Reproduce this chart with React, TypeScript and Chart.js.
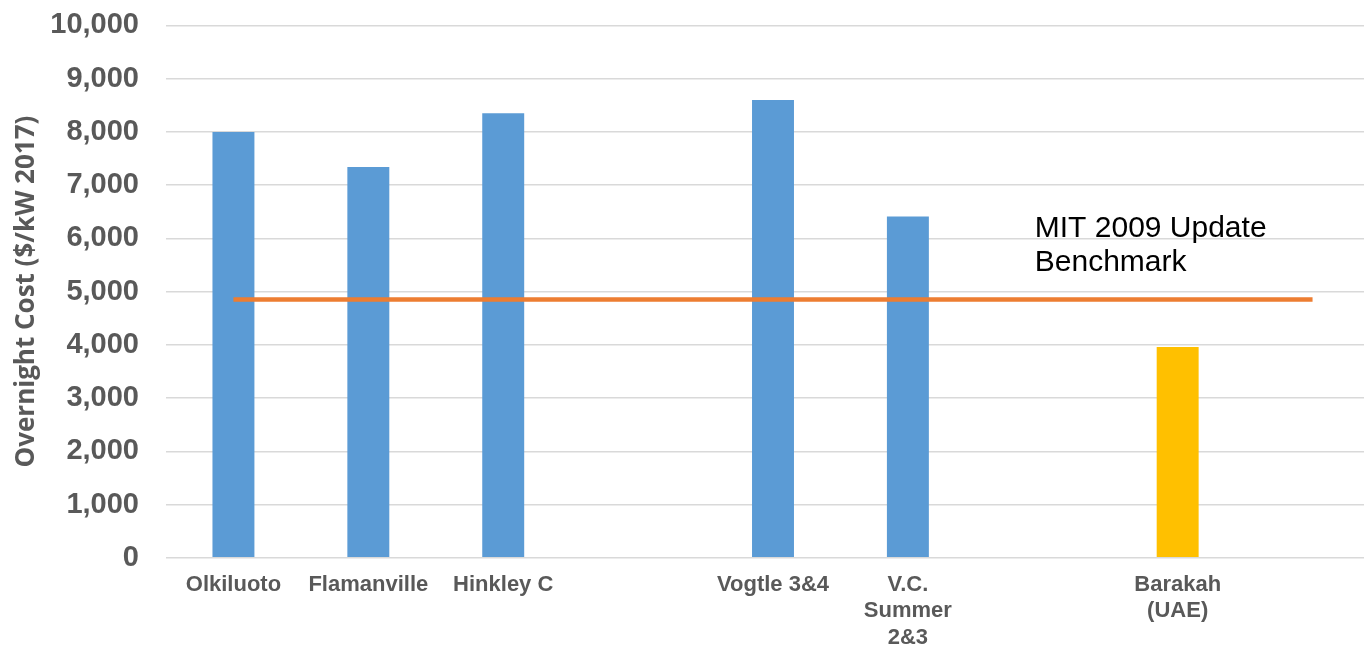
import React, { useEffect, useRef } from 'react';
import { Chart, registerables } from 'chart.js';

Chart.register(...registerables);

// Plant names (empty slots keep the gaps between country groups)
const categories: (string | string[])[] = [
  'Olkiluoto',
  'Flamanville',
  'Hinkley C',
  '',
  'Vogtle 3&4',
  ['V.C.', 'Summer', '2&3'],
  '',
  ['Barakah', '(UAE)'],
  '',
];

// Overnight cost, $/kW (2017 dollars)
const overnightCost: (number | null)[] = [8000, 7340, 8350, null, 8600, 6410, null, 3960, null];

// MIT 2009 Update benchmark level
const benchmarkCost: number[] = [4850, 4850, 4850, 4850, 4850, 4850, 4850, 4850, 4850];

const yTicks: number[] = [0, 1000, 2000, 3000, 4000, 5000, 6000, 7000, 8000, 9000, 10000];

const benchmarkLabel: string[] = ['MIT 2009 Update', 'Benchmark'];

const BLUE = '#5B9BD5';
const GOLD = '#FFC000';
const ORANGE = '#ED7D31';
const AXIS_GREY = '#595959';

const benchmarkNote = {
  id: 'benchmarkNote',
  afterDatasetsDraw(chart: any) {
    const { ctx, scales } = chart;
    const x = scales.x.getPixelForValue(6) - 8;
    const y = scales.y.getPixelForValue(6000) - 1;
    ctx.save();
    ctx.fillStyle = '#000000';
    ctx.font = '30px "Liberation Sans", Arial, sans-serif';
    ctx.textAlign = 'left';
    ctx.textBaseline = 'alphabetic';
    benchmarkLabel.forEach((line, i) => ctx.fillText(line, x, y + i * 33.5));
    ctx.restore();
  },
};

export default function App() {
  const canvasRef = useRef<HTMLCanvasElement>(null);

  useEffect(() => {
    if (!canvasRef.current) return;
    const chart = new Chart(canvasRef.current, {
      type: 'bar',
      data: {
        labels: categories,
        datasets: [
          {
            type: 'line',
            label: 'MIT 2009 Update Benchmark',
            data: benchmarkCost,
            borderColor: ORANGE,
            borderWidth: 4.5,
            pointRadius: 0,
            fill: false,
            order: 0,
          } as any,
          {
            type: 'bar',
            label: 'Overnight Cost',
            data: overnightCost,
            backgroundColor: (c: any) => (c.dataIndex === 7 ? GOLD : BLUE),
            barPercentage: 1,
            categoryPercentage: 0.311,
            order: 1,
          },
        ],
      },
      options: {
        animation: false,
        responsive: true,
        maintainAspectRatio: false,
        layout: { padding: { left: 6, right: 2, top: 11, bottom: 0 } },
        plugins: {
          legend: { display: false },
          tooltip: { enabled: false },
        },
        scales: {
          x: {
            offset: true,
            grid: { display: false },
            border: { display: false },
            ticks: {
              color: AXIS_GREY,
              padding: 6,
              maxRotation: 0,
              autoSkip: false,
              font: { family: '"Liberation Sans", Arial, sans-serif', size: 22, weight: 'bold', lineHeight: 1.2 },
            },
          },
          y: {
            min: 0,
            max: 10000,
            afterBuildTicks: (axis: any) => {
              axis.ticks = yTicks.map((v) => ({ value: v }));
            },
            grid: { color: '#D9D9D9', lineWidth: 1.6, drawTicks: false },
            border: { display: false },
            ticks: {
              color: AXIS_GREY,
              padding: 27,
              font: { family: '"Liberation Sans", Arial, sans-serif', size: 29, weight: 'bold' },
              callback: (v: any) => Number(v).toLocaleString('en-US'),
            },
            title: {
              display: true,
              text: 'Overnight Cost ($/kW 2017)',
              color: AXIS_GREY,
              padding: { top: 5.4, bottom: -19.3 },
              font: { family: '"Open Sans", Lato, sans-serif', size: 26, weight: 'bold' },
            },
          },
        },
      },
      plugins: [benchmarkNote],
    });
    return () => chart.destroy();
  }, []);

  return (
    <div
      style={{
        position: 'absolute',
        left: 0,
        top: 0,
        width: 1364,
        height: 646,
        overflow: 'hidden',
        background: '#ffffff',
      }}
    >
      <div style={{ position: 'absolute', left: 0, top: -19, width: 1382, height: 676 }}>
        <canvas ref={canvasRef} />
      </div>
    </div>
  );
}
